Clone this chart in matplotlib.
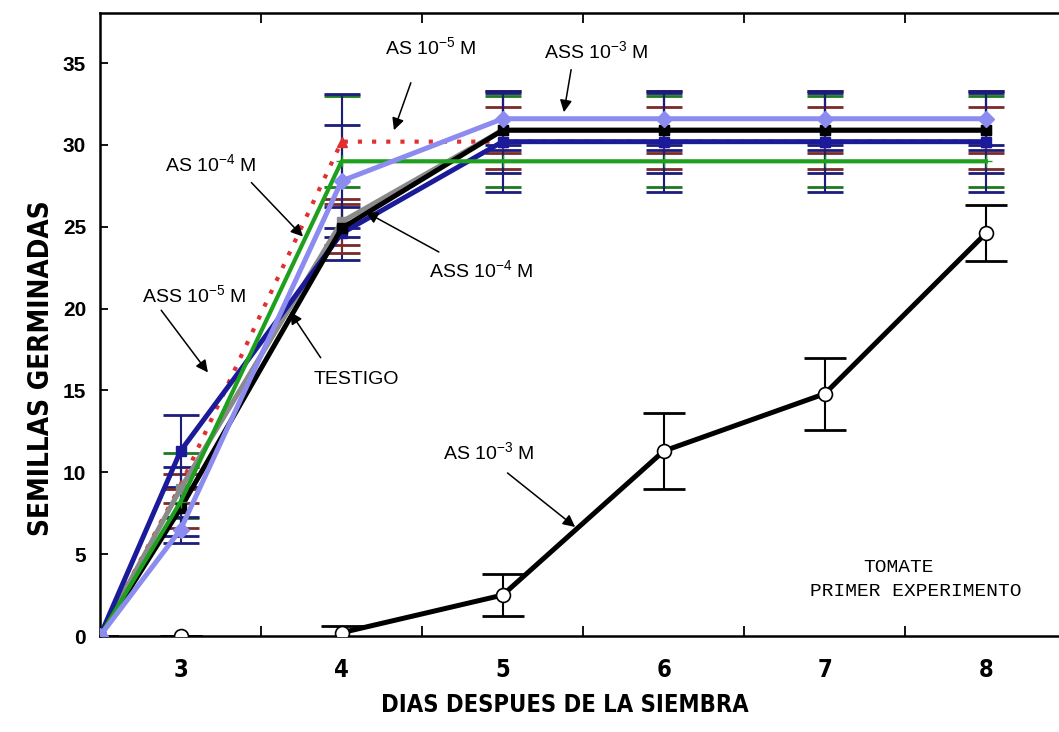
import numpy as np
import matplotlib
matplotlib.use('Agg')
import matplotlib.pyplot as plt
from matplotlib.ticker import MultipleLocator, FixedLocator

plt.rcParams['font.family'] = ['Liberation Sans', 'DejaVu Sans']
plt.rcParams['mathtext.default'] = 'regular'

# datos
days = [2.5, 3, 4, 5, 6, 7, 8]
testigo = [0, 7.8, 24.9, 30.9, 30.9, 30.9, 30.9]
as_5 = [0, 9.2, 30.2, 30.2, 30.2, 30.2, 30.2]
as_4 = [0, 8.2, 29.0, 29.0, 29.0, 29.0, 29.0]
ass_5 = [0, 11.3, 24.6, 30.2, 30.2, 30.2, 30.2]
ass_4 = [0, 9.0, 25.3, 30.9, 30.9, 30.9, 30.9]
ass_3 = [0, 6.5, 27.8, 31.6, 31.6, 31.6, 31.6]

err_testigo = [0, 1.2, 1.5, 1.4, 1.4, 1.4, 1.4]
err_as_5 = [0, 2.0, 2.8, 2.8, 2.8, 2.8, 2.8]
err_as_4 = [0, 2.1, 4.1, 0.7, 0.7, 0.7, 0.7]
err_ass_5 = [0, 2.2, 1.6, 3.1, 3.1, 3.1, 3.1]
err_ass_4 = [0, 0.9, 1.4, 2.4, 2.4, 2.4, 2.4]
err_ass_3 = [0, 0.8, 3.4, 1.6, 1.6, 1.6, 1.6]

as3_days = [3, 4, 5, 6, 7, 8]
as_3 = [0, 0.2, 2.5, 11.3, 14.8, 24.6]
err_as_3 = [0, 0.4, 1.3, 2.3, 2.2, 1.7]

fig = plt.figure(figsize=(10.59, 7.32), dpi=100)
ax = fig.add_axes([100/1059, 96/732, 1 - 100/1059, (719 - 96)/732])

def serie(y, e, color, ecolor, marker, ls='-', lw=3.6, z=3, ms=7):
    ax.errorbar(days, y, yerr=e, fmt='none', ecolor=ecolor, elinewidth=1.5,
                capsize=13, capthick=2, zorder=2)
    ax.plot(days, y, color=color, lw=lw, ls=ls, marker=marker, ms=ms,
            mfc=color, mec=color, zorder=z)

serie(as_5, err_as_5, '#e03030', '#1e7a1e', '^', ls=(0, (1, 2.4)), lw=3, z=3)
serie(ass_4, err_ass_4, '#8a8a8a', '#7a2a2a', 's', z=4)
serie(ass_5, err_ass_5, '#1a1a9a', '#1c1c7a', 's', z=5)
serie(testigo, err_testigo, 'black', '#7a2a2a', 's', z=6)
serie(as_4, err_as_4, '#1ea01e', '#1c1c7a', '+', lw=3, z=7, ms=8)
serie(ass_3, err_ass_3, '#8c8cf0', '#1c1c7a', 'D', z=8, ms=8)

ax.errorbar(as3_days, as_3, yerr=err_as_3, fmt='none', ecolor='black',
            elinewidth=1.5, capsize=15, capthick=2, zorder=2)
ax.plot(as3_days[1:], as_3[1:], color='black', lw=3.6, zorder=6)
ax.plot(as3_days, as_3, ls='none', marker='o', ms=10, mfc='white',
        mec='black', mew=1.2, zorder=7)

ax.set_xlim(2.5, 8.454)
ax.set_ylim(0, 38.06)

narrow = dict(family=['DejaVu Sans'], fontstretch='condensed', fontweight='bold')

ax.xaxis.set_major_locator(FixedLocator([3, 4, 5, 6, 7, 8]))
ax.xaxis.set_minor_locator(FixedLocator([3.5, 4.5, 5.5, 6.5, 7.5]))
ax.yaxis.set_major_locator(MultipleLocator(5))
ax.tick_params(axis='x', which='major', length=0, pad=16)
ax.tick_params(axis='x', which='minor', direction='in', length=7, width=1.3,
               top=True, bottom=True)
ax.tick_params(axis='y', which='major', direction='in', length=6, width=1.3, pad=10)
for lab in ax.get_xticklabels():
    lab.set_family(narrow['family'])
    lab.set_stretch('condensed')
    lab.set_fontweight('bold')
    lab.set_fontsize(17)
for lab in ax.get_yticklabels():
    lab.set_fontweight('bold')
    lab.set_fontsize(15)

for s in ['left', 'bottom', 'top']:
    ax.spines[s].set_linewidth(1.8)
ax.spines['right'].set_visible(False)

ax.set_xlabel('DIAS DESPUES DE LA SIEMBRA', fontsize=17, **narrow)
ax.set_ylabel('SEMILLAS GERMINADAS', fontsize=20, **narrow)
ax.xaxis.set_label_coords(0.485, -0.092)
ax.yaxis.set_label_coords(-0.047, 0.43)

# rotulos con flechas
notas = [
    ('AS 10$^{-5}$ M', (4.555, 35.98), (4.43, 33.8), (4.325, 30.9)),
    ('ASS 10$^{-3}$ M', (5.58, 35.7), (5.425, 34.6), (5.38, 32.0)),
    ('AS 10$^{-4}$ M', (3.19, 28.8), (3.44, 27.7), (3.76, 24.4)),
    ('ASS 10$^{-4}$ M', (4.866, 22.36), (4.604, 23.46), (4.15, 25.9)),
    ('ASS 10$^{-5}$ M', (3.087, 20.83), (2.88, 19.9), (3.17, 16.1)),
    ('TESTIGO', (4.09, 15.64), (3.87, 17.0), (3.68, 19.8)),
    ('AS 10$^{-3}$ M', (4.915, 11.24), (5.03, 9.96), (5.45, 6.66)),
]
for txt, pos, tail, head in notas:
    ax.text(pos[0], pos[1], txt, ha='center', va='center', fontsize=14, zorder=10)
    ax.annotate('', xy=head, xytext=tail,
                arrowprops=dict(arrowstyle='-|>', color='black', lw=1.1,
                                mutation_scale=18, shrinkA=0, shrinkB=0),
                zorder=10)

mono = dict(family=['Liberation Mono', 'DejaVu Sans Mono'], fontsize=14)
ax.text(7.459, 4.21, 'TOMATE', ha='center', va='center', **mono)
ax.text(7.565, 2.69, 'PRIMER EXPERIMENTO', ha='center', va='center', **mono)

fig.savefig('out.png', dpi=100)
